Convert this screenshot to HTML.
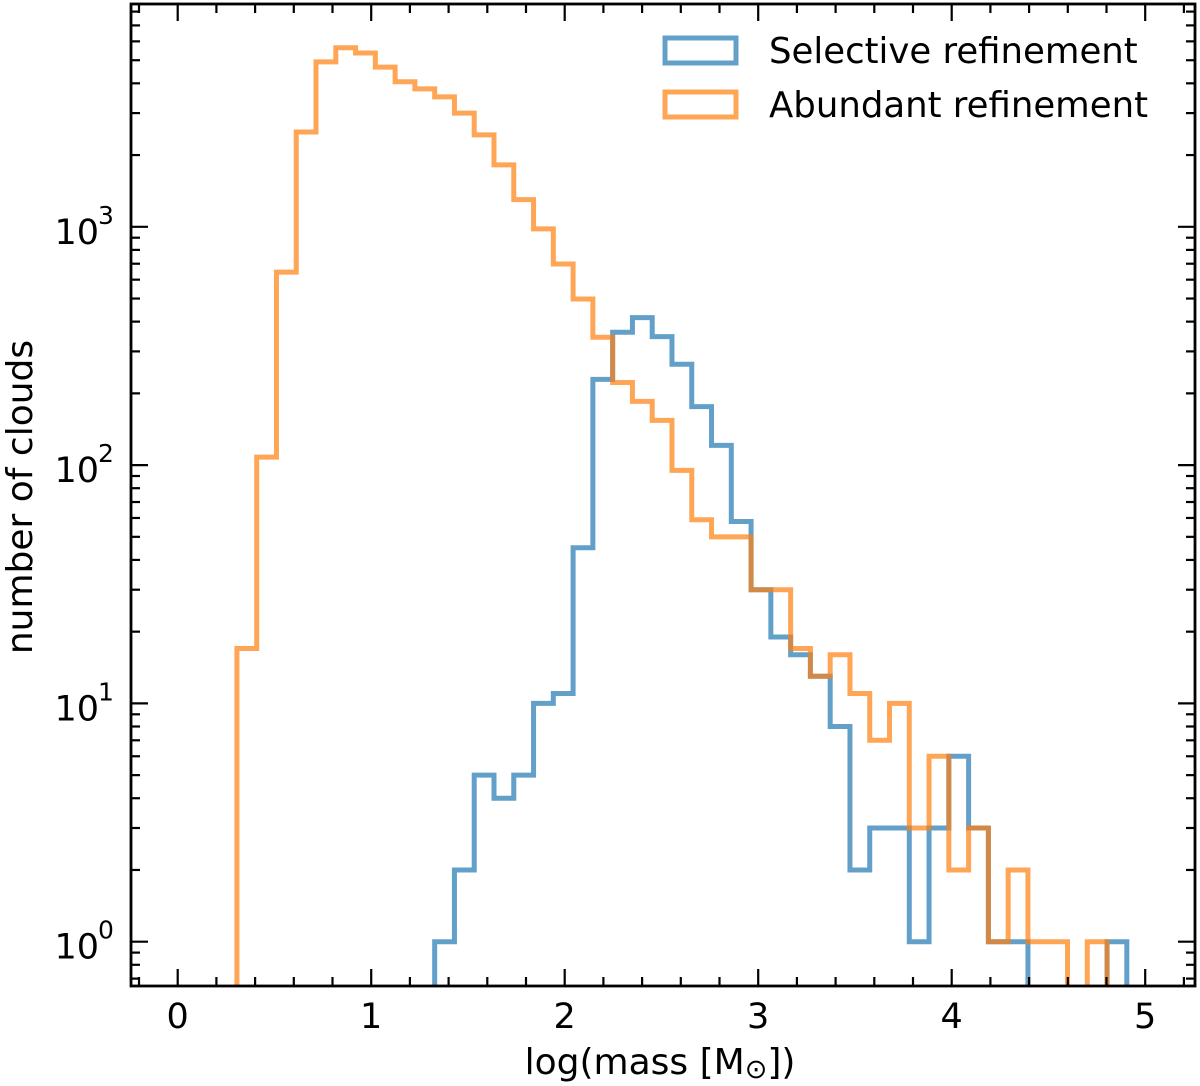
<!DOCTYPE html>
<html><head><meta charset="utf-8"><style>
html,body{margin:0;padding:0;background:#fff;}
svg{display:block;font-family:"DejaVu Sans","Liberation Sans",sans-serif;}
</style></head><body>
<svg id="chart" width="1200" height="1086" viewBox="0 0 1200 1086" xmlns="http://www.w3.org/2000/svg">
<defs><clipPath id="pc"><rect x="131" y="4" width="1064" height="982"/></clipPath></defs>
<g id="series" clip-path="url(#pc)"></g>
<g id="axes"></g>
<g>
  <rect x="665" y="38" width="71" height="25" fill="none" stroke="#1f77b4" stroke-opacity="0.7" stroke-width="5"/>
  <text x="769" y="63" font-size="35.5">Selective refinement</text>
  <rect x="665" y="92" width="71" height="25" fill="none" stroke="#ff7f0e" stroke-opacity="0.7" stroke-width="5"/>
  <text x="769" y="117" font-size="35.5">Abundant refinement</text>
</g>
<text x="660" y="1074" font-size="36" text-anchor="middle">log(mass [M<tspan font-size="27" dy="4">⊙</tspan><tspan dy="-4">])</tspan></text>
<text transform="translate(32,497) rotate(-90)" font-size="36" text-anchor="middle">number of clouds</text>
</svg>
<script>
const binStart = 0.306;
const binWidth = 0.1022;
const abundantCounts = [17,108,645,2500,4920,5640,5360,4680,4060,3790,3510,3000,2430,1820,1300,980,698,498,344,222,185,154,95,59,50,50,30,30,17,13,16,11,7,10,3,6,2,3,1,2,1,1,0,1];
const selectiveCounts = [0,0,0,0,0,0,0,0,0,0,1,2,5,4,5,10,11,45,229,361,416,346,265,176,121,58,30,19,16,13,8,2,3,3,1,3,6,3,1,1,0,0,0,0,1];
const xTickLabels = ["0","1","2","3","4","5"];
const yTickExps = [0,1,2,3];

const X0 = 177.7, XS = 193.5;
const Y0 = 941.7, YS = 238.3;
const L = 131, R = 1195, T = 4, B = 986;
function xs(v){ return X0 + v*XS; }
function ys(c){ return c > 0 ? Y0 - Math.log10(c)*YS : B + 20; }
const NS = "http://www.w3.org/2000/svg";
function mk(tag, attrs, parent){ const e = document.createElementNS(NS, tag); for (const k in attrs) e.setAttribute(k, attrs[k]); parent.appendChild(e); return e; }

const series = document.getElementById('series');
function stepPath(counts){
  let first = counts.findIndex(c => c > 0);
  let last = counts.length - 1; while (counts[last] <= 0) last--;
  let d = "M" + xs(binStart + first*binWidth).toFixed(2) + "," + (B+20);
  for (let k = first; k <= last; k++){
    const y = ys(counts[k]).toFixed(2);
    d += " L" + xs(binStart + k*binWidth).toFixed(2) + "," + y + " L" + xs(binStart + (k+1)*binWidth).toFixed(2) + "," + y;
  }
  d += " L" + xs(binStart + (last+1)*binWidth).toFixed(2) + "," + (B+20);
  return d;
}
const p1 = mk('path', {d: stepPath(selectiveCounts), fill:'none', stroke:'#1f77b4', 'stroke-opacity':'0.7', 'stroke-width':'5', 'stroke-linejoin':'miter'}, series);


const p2 = mk('path', {d: stepPath(abundantCounts), fill:'none', stroke:'#ff7f0e', 'stroke-opacity':'0.7', 'stroke-width':'5', 'stroke-linejoin':'miter'}, series);



const axes = document.getElementById('axes');
for (let i = -1; i <= 26; i++){
  const v = i*0.2; const x = xs(v);
  if (x < L || x > R) continue;
  const major = (i % 5 === 0);
  const len = major ? 17 : 9;
  mk('line', {x1:x, x2:x, y1:B, y2:B-len, stroke:'#000', 'stroke-width':'2.2'}, axes);
  mk('line', {x1:x, x2:x, y1:T, y2:T+len, stroke:'#000', 'stroke-width':'2.2'}, axes);
}
xTickLabels.forEach((lab, i) => {
  const t = mk('text', {x: xs(+lab), y: 1028, 'font-size':'35', 'text-anchor':'middle'}, axes);
  t.textContent = lab;
  
  
});
for (let e = -1; e <= 4; e++){
  for (let m = 1; m <= 9; m++){
    const c = m*Math.pow(10, e); const y = ys(c);
    if (y < T || y > B) continue;
    const len = m === 1 ? 17 : 9;
    mk('line', {x1:L, x2:L+len, y1:y, y2:y, stroke:'#000', 'stroke-width':'2.2'}, axes);
    mk('line', {x1:R, x2:R-len, y1:y, y2:y, stroke:'#000', 'stroke-width':'2.2'}, axes);
  }
}
yTickExps.forEach(ex => {
  const y = ys(Math.pow(10, ex));
  const t = mk('text', {x: 99, y: y+17, 'font-size':'35', 'text-anchor':'end'}, axes);
  t.textContent = '10';
  
  
  const s = mk('text', {x: 98, y: y-3, 'font-size':'25'}, axes);
  s.textContent = String(ex);
  
  
});
const frame = mk('rect', {x:L, y:T, width:R-L, height:B-T, fill:'none', stroke:'#000', 'stroke-width':'2.8'}, axes);


</script>
</body></html>
